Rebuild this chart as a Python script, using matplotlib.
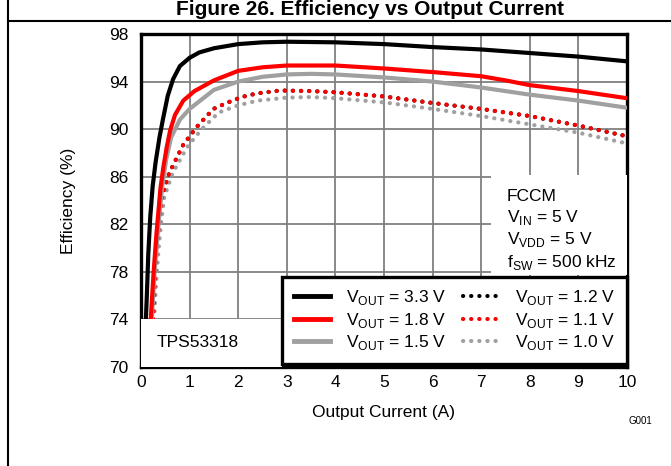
import matplotlib
matplotlib.use("Agg")
import matplotlib.pyplot as plt
from matplotlib.patches import Rectangle
from matplotlib.lines import Line2D

plt.rcParams["font.family"] = ["Liberation Sans", "DejaVu Sans"]
plt.rcParams["mathtext.fontset"] = "custom"
plt.rcParams["mathtext.rm"] = "Liberation Sans"

# Efficiency (%) vs output current (A)
i_33 = [0.10, 0.12, 0.15, 0.19, 0.24, 0.30, 0.38, 0.45, 0.55, 0.66, 0.80, 1.0, 1.2, 1.5, 2.0, 2.5,
        3.0, 4.0, 5.0, 6.0, 7.0, 8.0, 9.0, 10.0]
eff_33 = [74.0, 76.0, 79.5, 82.6, 85.2, 87.2, 89.3, 90.8, 92.8, 94.2, 95.3, 96.0, 96.45, 96.8, 97.15, 97.3,
          97.35, 97.3, 97.15, 96.9, 96.7, 96.4, 96.1, 95.7]

i_18 = [0.20, 0.26, 0.32, 0.40, 0.46, 0.53, 0.60, 0.70, 0.87, 1.1, 1.5, 2.0, 2.5, 3.0, 4.0, 5.0,
        6.0, 7.0, 7.5, 8.0, 9.0, 10.0]
eff_18 = [74.0, 78.0, 81.3, 85.0, 86.8, 88.5, 89.9, 91.2, 92.4, 93.2, 94.1, 94.9, 95.2, 95.35, 95.35, 95.1,
          94.8, 94.45, 94.1, 93.7, 93.2, 92.6]

i_15 = [0.22, 0.28, 0.35, 0.43, 0.52, 0.62, 0.80, 1.0, 1.5, 2.0, 2.5, 3.0, 3.5, 4.0, 5.0, 6.0,
        7.0, 8.0, 9.0, 10.0]
eff_15 = [74.0, 78.0, 81.5, 85.0, 87.5, 89.3, 90.8, 91.7, 93.3, 94.0, 94.4, 94.6, 94.65, 94.6, 94.35, 94.0,
          93.5, 92.9, 92.4, 91.8]

# 1.2 V curve sits under the 1.1 V curve in the picture
i_12 = [0.25, 0.28, 0.32, 0.37, 0.43, 0.58, 0.87, 1.15, 1.49, 1.76, 2.07, 2.38, 2.86, 3.5, 4.0, 5.0,
        6.0, 7.0, 8.0, 9.0, 10.0]
eff_12 = [74.0, 77.0, 79.8, 82.0, 84.3, 86.3, 88.7, 90.2, 91.7, 92.2, 92.7, 93.0, 93.25, 93.2, 93.1, 92.75,
          92.2, 91.7, 91.1, 90.3, 89.4]

i_11 = [0.25, 0.28, 0.32, 0.37, 0.43, 0.58, 0.87, 1.15, 1.49, 1.76, 2.07, 2.38, 2.86, 3.5, 4.0, 5.0,
        6.0, 7.0, 8.0, 9.0, 10.0]
eff_11 = [74.0, 77.0, 79.8, 82.0, 84.3, 86.3, 88.7, 90.2, 91.7, 92.2, 92.7, 93.0, 93.25, 93.2, 93.1, 92.75,
          92.2, 91.7, 91.1, 90.3, 89.4]

i_10 = [0.27, 0.31, 0.36, 0.41, 0.48, 0.65, 0.95, 1.25, 1.6, 2.0, 2.4, 3.0, 3.5, 4.0, 5.0, 6.0,
        7.0, 8.0, 9.0, 10.0]
eff_10 = [74.0, 77.0, 79.8, 82.0, 84.3, 86.3, 88.5, 90.0, 91.4, 92.0, 92.4, 92.65, 92.7, 92.6, 92.25, 91.7,
          91.1, 90.4, 89.7, 88.8]

x_ticks = list(range(0, 11))
y_ticks = [70, 74, 78, 82, 86, 90, 94, 98]

W, H = 671, 466
fs = 12.5
fig = plt.figure(figsize=(W / 100, H / 100), dpi=100)
ax = fig.add_axes([141 / W, 1 - 367 / H, (627 - 141) / W, (367 - 34) / H])

grey = "#a0a0a0"
dot = (0, (0.05, 1.9))
ax.plot(i_12, eff_12, color="black", lw=3, ls=dot, dash_capstyle="round", zorder=3)
ax.plot(i_10, eff_10, color=grey, lw=3, ls=dot, dash_capstyle="round", zorder=3)
ax.plot(i_11, eff_11, color="red", lw=3, ls=dot, dash_capstyle="round", zorder=3)
ax.plot(i_15, eff_15, color=grey, lw=3, zorder=3)
ax.plot(i_18, eff_18, color="red", lw=3, zorder=3)
ax.plot(i_33, eff_33, color="black", lw=3, zorder=3)

ax.set_xlim(0, 10)
ax.set_ylim(70, 98)
ax.set_xticks(x_ticks)
ax.set_yticks(y_ticks)
ax.tick_params(length=0, labelsize=fs)
ax.tick_params(axis="y", pad=9)
ax.tick_params(axis="x", pad=6)
ax.grid(True, color="#808080", lw=1.3)
ax.set_axisbelow(True)
for s in ax.spines.values():
    s.set_linewidth(2.4)
ax.set_xlabel("Output Current (A)", fontsize=fs, va="center")
ax.set_ylabel("Efficiency (%)", fontsize=fs, va="center")
ax.xaxis.set_label_coords(0.5, (367 - 412) / 333)
ax.yaxis.set_label_coords((68 - 141) / 486, 0.5)

# white boxes behind the annotations
ax.add_patch(Rectangle((0, 70), 2.9, 4, facecolor="white", edgecolor="none", zorder=4))
ax.add_patch(Rectangle((7.2, 77.7), 2.8, 8.45, facecolor="white", edgecolor="none", zorder=4))

ax.text(0.33, 72.1, "TPS53318", fontsize=fs, va="center", zorder=5)
ax.text(7.53, 84.95, "FCCM\nV$_\\mathregular{IN}$ = 5 V\nV$_\\mathregular{VDD}$ = 5 V\nf$_\\mathregular{SW}$ = 500 kHz",
        fontsize=fs, va="top", linespacing=1.26, zorder=5)

handles = [
    Line2D([], [], color="black", lw=3.5),
    Line2D([], [], color="red", lw=3.5),
    Line2D([], [], color=grey, lw=3.5),
    Line2D([], [], color="black", lw=3, ls=dot, dash_capstyle="round"),
    Line2D([], [], color="red", lw=3, ls=dot, dash_capstyle="round"),
    Line2D([], [], color=grey, lw=3, ls=dot, dash_capstyle="round"),
]
labels = ["V$_\\mathregular{OUT}$ = 3.3 V", "V$_\\mathregular{OUT}$ = 1.8 V", "V$_\\mathregular{OUT}$ = 1.5 V",
          "V$_\\mathregular{OUT}$ = 1.2 V", "V$_\\mathregular{OUT}$ = 1.1 V", "V$_\\mathregular{OUT}$ = 1.0 V"]
leg = ax.legend(handles, labels, ncol=2, loc="lower right", bbox_to_anchor=(1.0, 0.01),
                fontsize=fs, frameon=True, fancybox=False, framealpha=1, edgecolor="black",
                handlelength=2.1, handletextpad=0.9, columnspacing=1.0, labelspacing=0.2,
                borderpad=0.65, borderaxespad=0.0)
leg.get_frame().set_linewidth(2.4)
leg.set_zorder(6)

fig.text(640 / W, 1 - 421 / H, "G001", fontsize=7, ha="center", va="center")
fig.text(370 / W, 1 - 15 / H, "Figure 26. Efficiency vs Output Current", fontsize=15,
         fontweight="bold", ha="center", va="baseline")
fig.add_artist(Line2D([8 / W, 8 / W], [0, 1], color="black", lw=1.5))
fig.add_artist(Line2D([8 / W, 1], [1 - 21 / H, 1 - 21 / H], color="black", lw=1.5))

fig.savefig("out.png", dpi=100)
